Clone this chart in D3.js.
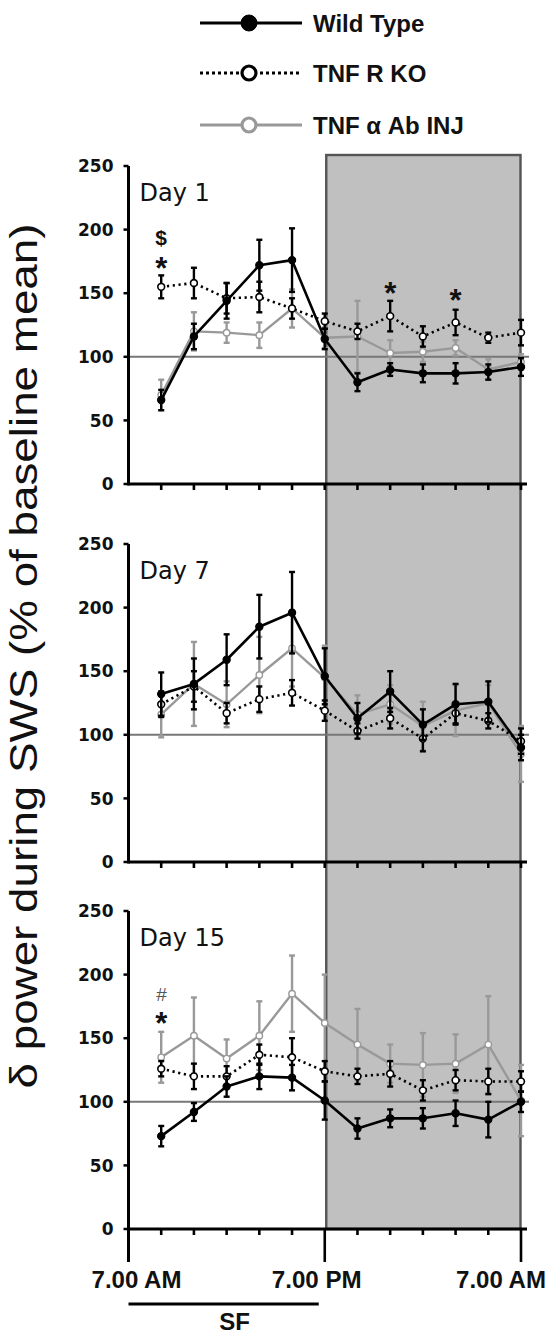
<!DOCTYPE html>
<html><head><meta charset="utf-8">
<script src="https://cdn.jsdelivr.net/npm/d3@7"></script>
<style>body{margin:0;background:#fff} svg{display:block}</style>
</head><body><svg id="c" width="545" height="1336"></svg>
<script>
// ---------- data ----------
const timeIdx = [1,2,3,4,5,6,7,8,9,10,11,12];      // 2-h bins after 7.00 AM
const yTicks = [0,50,100,150,200,250];
const xTickLabels = ["7.00 AM","7.00 PM","7.00 AM"];
const xTickLabelIdx = [0,6,12];
const days = ["Day 1","Day 7","Day 15"];
const seriesNames = ["Wild Type","TNF R KO","TNF \u03b1 Ab INJ"];
const baseline = 100;

// Day 1
const wt1    = [66,116,144,172,176,114,80,90,87,87,88,92];
const wt1Err = [8,10,14,20,25,8,7,5,7,8,6,7];
const ko1    = [155,158,146,147,138,128,120,132,116,127,115,119];
const ko1Err = [9,12,12,12,8,6,6,12,8,10,4,10];
const ab1    = [70,120,119,117,138,115,116,103,104,107,90,96];
const ab1Err = [12,15,8,10,15,8,28,10,8,6,8,6];
// Day 7
const wt2    = [132,140,159,185,196,146,113,134,108,124,126,90];
const wt2Err = [17,20,20,25,32,22,12,16,12,16,16,10];
const ko2    = [124,138,117,128,133,119,103,113,97,117,111,95];
const ko2Err = [10,12,8,10,10,8,6,8,10,8,6,10];
const ab2    = [116,140,124,147,168,145,116,124,107,119,125,85];
const ab2Err = [18,33,18,30,30,25,15,15,19,20,14,22];
// Day 15
const wt3    = [73,92,112,120,119,101,79,87,87,91,86,100];
const wt3Err = [8,7,8,10,10,15,8,7,8,10,14,8];
const ko3    = [126,120,120,137,135,124,120,122,109,117,116,116];
const ko3Err = [6,10,8,8,15,8,6,10,8,8,10,8];
const ab3    = [135,152,134,152,185,162,145,130,129,130,145,101];
const ab3Err = [20,30,15,27,30,38,28,15,25,23,38,28];

// significance marks: [panel, time index, value, symbol]
const annotations = [[0,1,194,"$"],[0,1,173,"*"],[0,8,153,"*"],[0,10,148,"*"],[2,1,185,"#"],[2,1,165,"*"]];

// ---------- layout ----------
const svg = d3.select("#c");
const panelBottoms = [484, 862, 1229];
const panelH = 318;
const x = d3.scaleLinear().domain([0,12]).range([128.5,521]);
const styles = [
  {color:"#000", width:2.6, dash:null, fill:"#000", r:3.6, mstroke:1.2},
  {color:"#000", width:2.6, dash:"2.2,3.6", fill:"#fff", r:3.4, mstroke:1.6},
  {color:"#999", width:2.4, dash:null, fill:"#fff", r:3.2, mstroke:1.4}
];
const panelData = [
  [[wt1,wt1Err],[ko1,ko1Err],[ab1,ab1Err]],
  [[wt2,wt2Err],[ko2,ko2Err],[ab2,ab2Err]],
  [[wt3,wt3Err],[ko3,ko3Err],[ab3,ab3Err]]
];
const yScales = panelBottoms.map(b => d3.scaleLinear().domain([0,250]).range([b, b-panelH]));

// dark-period shading (7 PM – 7 AM), spans all panels
svg.append("rect")
  .attr("x", x(6)+1.5).attr("y", panelBottoms[0]-panelH-11)
  .attr("width", x(12)-x(6)-2).attr("height", panelBottoms[2]-(panelBottoms[0]-panelH-11))
  .attr("fill","#c0c0c0").attr("stroke","#555").attr("stroke-width",2.4);

panelData.forEach((pd, p) => {
  const y = yScales[p];
  const g = svg.append("g");
  // baseline
  g.append("line").attr("x1", x(0)).attr("x2", x(12)+8)
    .attr("y1", y(baseline)).attr("y2", y(baseline))
    .attr("stroke","#777").attr("stroke-width",2);

  // series (draw gray first, then KO, then WT)
  [2,1,0].forEach(s => {
    const [vals, errs] = pd[s];
    const st = styles[s];
    const sg = g.append("g");
    const line = d3.line().x((d,i)=>x(timeIdx[i])).y(d=>y(d));
    sg.append("path").datum(vals).attr("d", line).attr("fill","none")
      .attr("stroke", st.color).attr("stroke-width", st.width)
      .attr("stroke-dasharray", st.dash).attr("stroke-linejoin","round");
    // error bars
    const eb = sg.selectAll(".eb").data(vals).enter().append("g");
    eb.append("line").attr("x1",(d,i)=>x(timeIdx[i])).attr("x2",(d,i)=>x(timeIdx[i]))
      .attr("y1",(d,i)=>y(d-errs[i])).attr("y2",(d,i)=>y(d+errs[i]))
      .attr("stroke", st.color).attr("stroke-width", 2.4);
    [-1,1].forEach(sign => {
      eb.append("line").attr("x1",(d,i)=>x(timeIdx[i])-3).attr("x2",(d,i)=>x(timeIdx[i])+3)
        .attr("y1",(d,i)=>y(d+sign*errs[i])).attr("y2",(d,i)=>y(d+sign*errs[i]))
        .attr("stroke", st.color).attr("stroke-width", 2.4);
    });
    sg.selectAll("circle").data(vals).enter().append("circle")
      .attr("cx",(d,i)=>x(timeIdx[i])).attr("cy",d=>y(d)).attr("r", st.r)
      .attr("fill", st.fill).attr("stroke", st.color).attr("stroke-width", st.mstroke);
  });

  // y axis
  g.append("line").attr("x1",x(0)).attr("x2",x(0))
    .attr("y1", y(250)).attr("y2", p===2 ? y(0)+33 : y(0)+1.5)
    .attr("stroke","#000").attr("stroke-width",3);
  g.selectAll(".yt").data(yTicks).enter().append("line")
    .attr("x1",x(0)-5).attr("x2",x(0)).attr("y1",d=>y(d)).attr("y2",d=>y(d))
    .attr("stroke","#000").attr("stroke-width",2.5);
  g.selectAll(".yl").data(yTicks).enter().append("text")
    .attr("x", x(0)-15).attr("y", d=>y(d)).attr("dy","0.36em")
    .attr("text-anchor","end").attr("font-family","DejaVu Sans, Verdana, sans-serif")
    .attr("font-weight","bold").attr("font-size",17).attr("fill","#111")
    .text(d=>d);
  // x axis
  g.append("line").attr("x1",x(0)).attr("x2",x(12)+6)
    .attr("y1", y(0)).attr("y2", y(0)).attr("stroke","#000").attr("stroke-width",3);
  g.selectAll(".xt").data(d3.range(1,13)).enter().append("line")
    .attr("x1",d=>x(d)).attr("x2",d=>x(d))
    .attr("y1", y(0)).attr("y2", d => (p===2 && (d===6||d===12)) ? y(0)+33 : y(0)+6)
    .attr("stroke","#000").attr("stroke-width",2.6);

  // day label
  g.append("text").attr("x", x(0)+11).attr("y", y(250)+35)
    .attr("font-family","DejaVu Sans, Verdana, sans-serif").attr("font-size",24)
    .attr("fill","#111").text(days[p]);
});

// significance annotations
annotations.forEach(([p, idx, v, sym]) => {
  const t = svg.append("text").attr("x", x(idx)).attr("y", yScales[p](v))
    .attr("text-anchor","middle").attr("fill", sym==="#" ? "#555" : "#111")
    .attr("font-family","Liberation Sans, Arial, sans-serif");
  if (sym === "*") {
    t.attr("font-size",31).attr("font-weight","bold").attr("dy","0.48em");
  } else if (sym === "#") {
    t.attr("font-size",19).attr("font-style","italic").attr("dy","0.36em");
  } else {
    t.attr("font-size",21).attr("font-weight","bold").attr("dy","0.36em");
  }
  t.text(sym);
});

// x tick labels (bottom panel)
const xOff = [8, -8, -20];
xTickLabelIdx.forEach((ti, k) => {
  svg.append("text").attr("x", x(ti)+xOff[k]).attr("y", panelBottoms[2]+59)
    .attr("text-anchor","middle").attr("font-family","Liberation Sans, Arial, sans-serif")
    .attr("font-weight","bold").attr("font-size",24).attr("fill","#111")
    .attr("textLength", 90).attr("lengthAdjust","spacingAndGlyphs")
    .text(xTickLabels[k]);
});
// SF bar
svg.append("line").attr("x1", x(0)).attr("x2", x(6)-6)
  .attr("y1", panelBottoms[2]+75).attr("y2", panelBottoms[2]+75)
  .attr("stroke","#000").attr("stroke-width",3);
svg.append("text").attr("x", (x(0)+x(6))/2+8).attr("y", panelBottoms[2]+101)
  .attr("text-anchor","middle").attr("font-family","Liberation Sans, Arial, sans-serif")
  .attr("font-weight","bold").attr("font-size",24).attr("fill","#111").text("SF");

// y axis title
svg.append("text")
  .attr("transform","translate(37,656) rotate(-90)")
  .attr("text-anchor","middle").attr("font-family","Liberation Sans, Arial, sans-serif")
  .attr("font-size",38).attr("fill","#111")
  .attr("textLength", 865).attr("lengthAdjust","spacingAndGlyphs")
  .text("\u03b4 power during SWS (% of baseline mean)");

// legend
const legY = [23, 73, 125];
seriesNames.forEach((name, s) => {
  const st = styles[s];
  const lg = svg.append("g");
  lg.append("line").attr("x1",200).attr("x2",302).attr("y1",legY[s]).attr("y2",legY[s])
    .attr("stroke", st.color).attr("stroke-width", s===2 ? 3 : 3.2)
    .attr("stroke-dasharray", st.dash ? "3,3" : null);
  lg.append("circle").attr("cx",249).attr("cy",legY[s]).attr("r", s===0 ? 8 : 7)
    .attr("fill", st.fill).attr("stroke", st.color).attr("stroke-width", s===0 ? 1 : 3.2);
  lg.append("text").attr("x",313).attr("y",legY[s]+8.5)
    .attr("font-family","Liberation Sans, Arial, sans-serif").attr("font-weight","bold")
    .attr("font-size",24).attr("fill","#111").text(name);
});
</script></body></html>
